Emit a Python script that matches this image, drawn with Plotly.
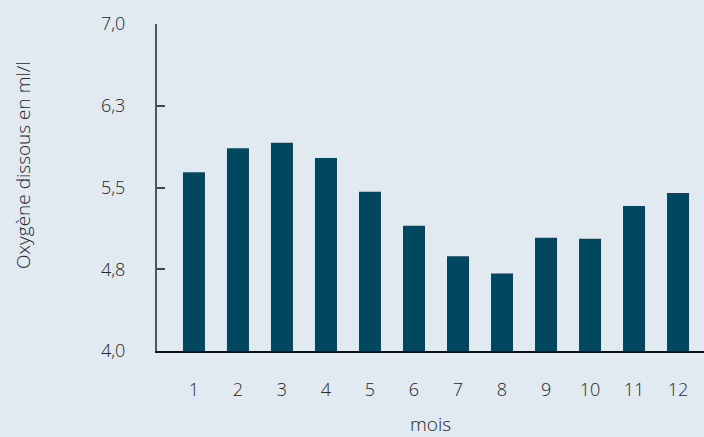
import plotly.graph_objects as go

# Mean dissolved oxygen per month
mois = [1, 2, 3, 4, 5, 6, 7, 8, 9, 10, 11, 12]
oxygene = [5.64, 5.86, 5.91, 5.77, 5.46, 5.15, 4.87, 4.71, 5.04, 5.03, 5.33, 5.45]

y_ticks = [4.0, 4.75, 5.5, 6.25, 7.0]
y_labels = ["4,0", "4,8", "5,5", "6,3", "7,0"]

x_title = "mois"
y_title = "Oxygène dissous en ml/l"

bg = "#E1E9F1"
bar_color = "#00475F"
text_color = "#262626"
font_family = "Open Sans, sans-serif"
font_weight = 300

fig = go.Figure(
    go.Bar(
        x=mois,
        y=[v - 4.0 for v in oxygene],
        base=4.0,
        width=0.5,
        marker=dict(color=bar_color, line=dict(width=0)),
        hoverinfo="skip",
    )
)

fig.update_layout(
    width=704,
    height=437,
    margin=dict(l=157, r=0, t=24, b=86),
    paper_bgcolor=bg,
    plot_bgcolor=bg,
    showlegend=False,
    font=dict(family=font_family, size=18, color=text_color, weight=font_weight),
)

fig.update_xaxes(
    range=[0.16, 12.59],
    tickmode="array",
    tickvals=mois,
    ticktext=[str(m) for m in mois],
    showgrid=False,
    zeroline=False,
    showline=True,
    linecolor="#111111",
    linewidth=1.5,
    ticks="",
    ticklabelstandoff=22,
    automargin=False,
    tickfont=dict(size=18, color=text_color, weight=font_weight),
)

fig.update_yaxes(
    range=[4.0, 7.0],
    tickmode="array",
    tickvals=y_ticks,
    ticktext=y_labels,
    showgrid=False,
    zeroline=False,
    showline=True,
    linecolor="#555555",
    linewidth=2,
    ticks="inside",
    ticklen=8,
    tickwidth=2,
    tickcolor="#444444",
    ticklabelstandoff=26,
    automargin=False,
    tickfont=dict(size=18, color=text_color, weight=font_weight),
)

# Axis titles placed as annotations relative to the plot area
fig.add_annotation(
    text=y_title, textangle=-90,
    xref="paper", yref="paper", x=0, y=0.566,
    xanchor="center", yanchor="middle", xshift=-134,
    showarrow=False, font=dict(size=19, color=text_color, weight=font_weight),
)
fig.add_annotation(
    text=x_title,
    xref="paper", yref="paper", x=0.5, y=0,
    xanchor="center", yanchor="bottom", yshift=-88,
    showarrow=False, font=dict(size=19, color=text_color, weight=font_weight),
)

fig.write_html("out.html")
